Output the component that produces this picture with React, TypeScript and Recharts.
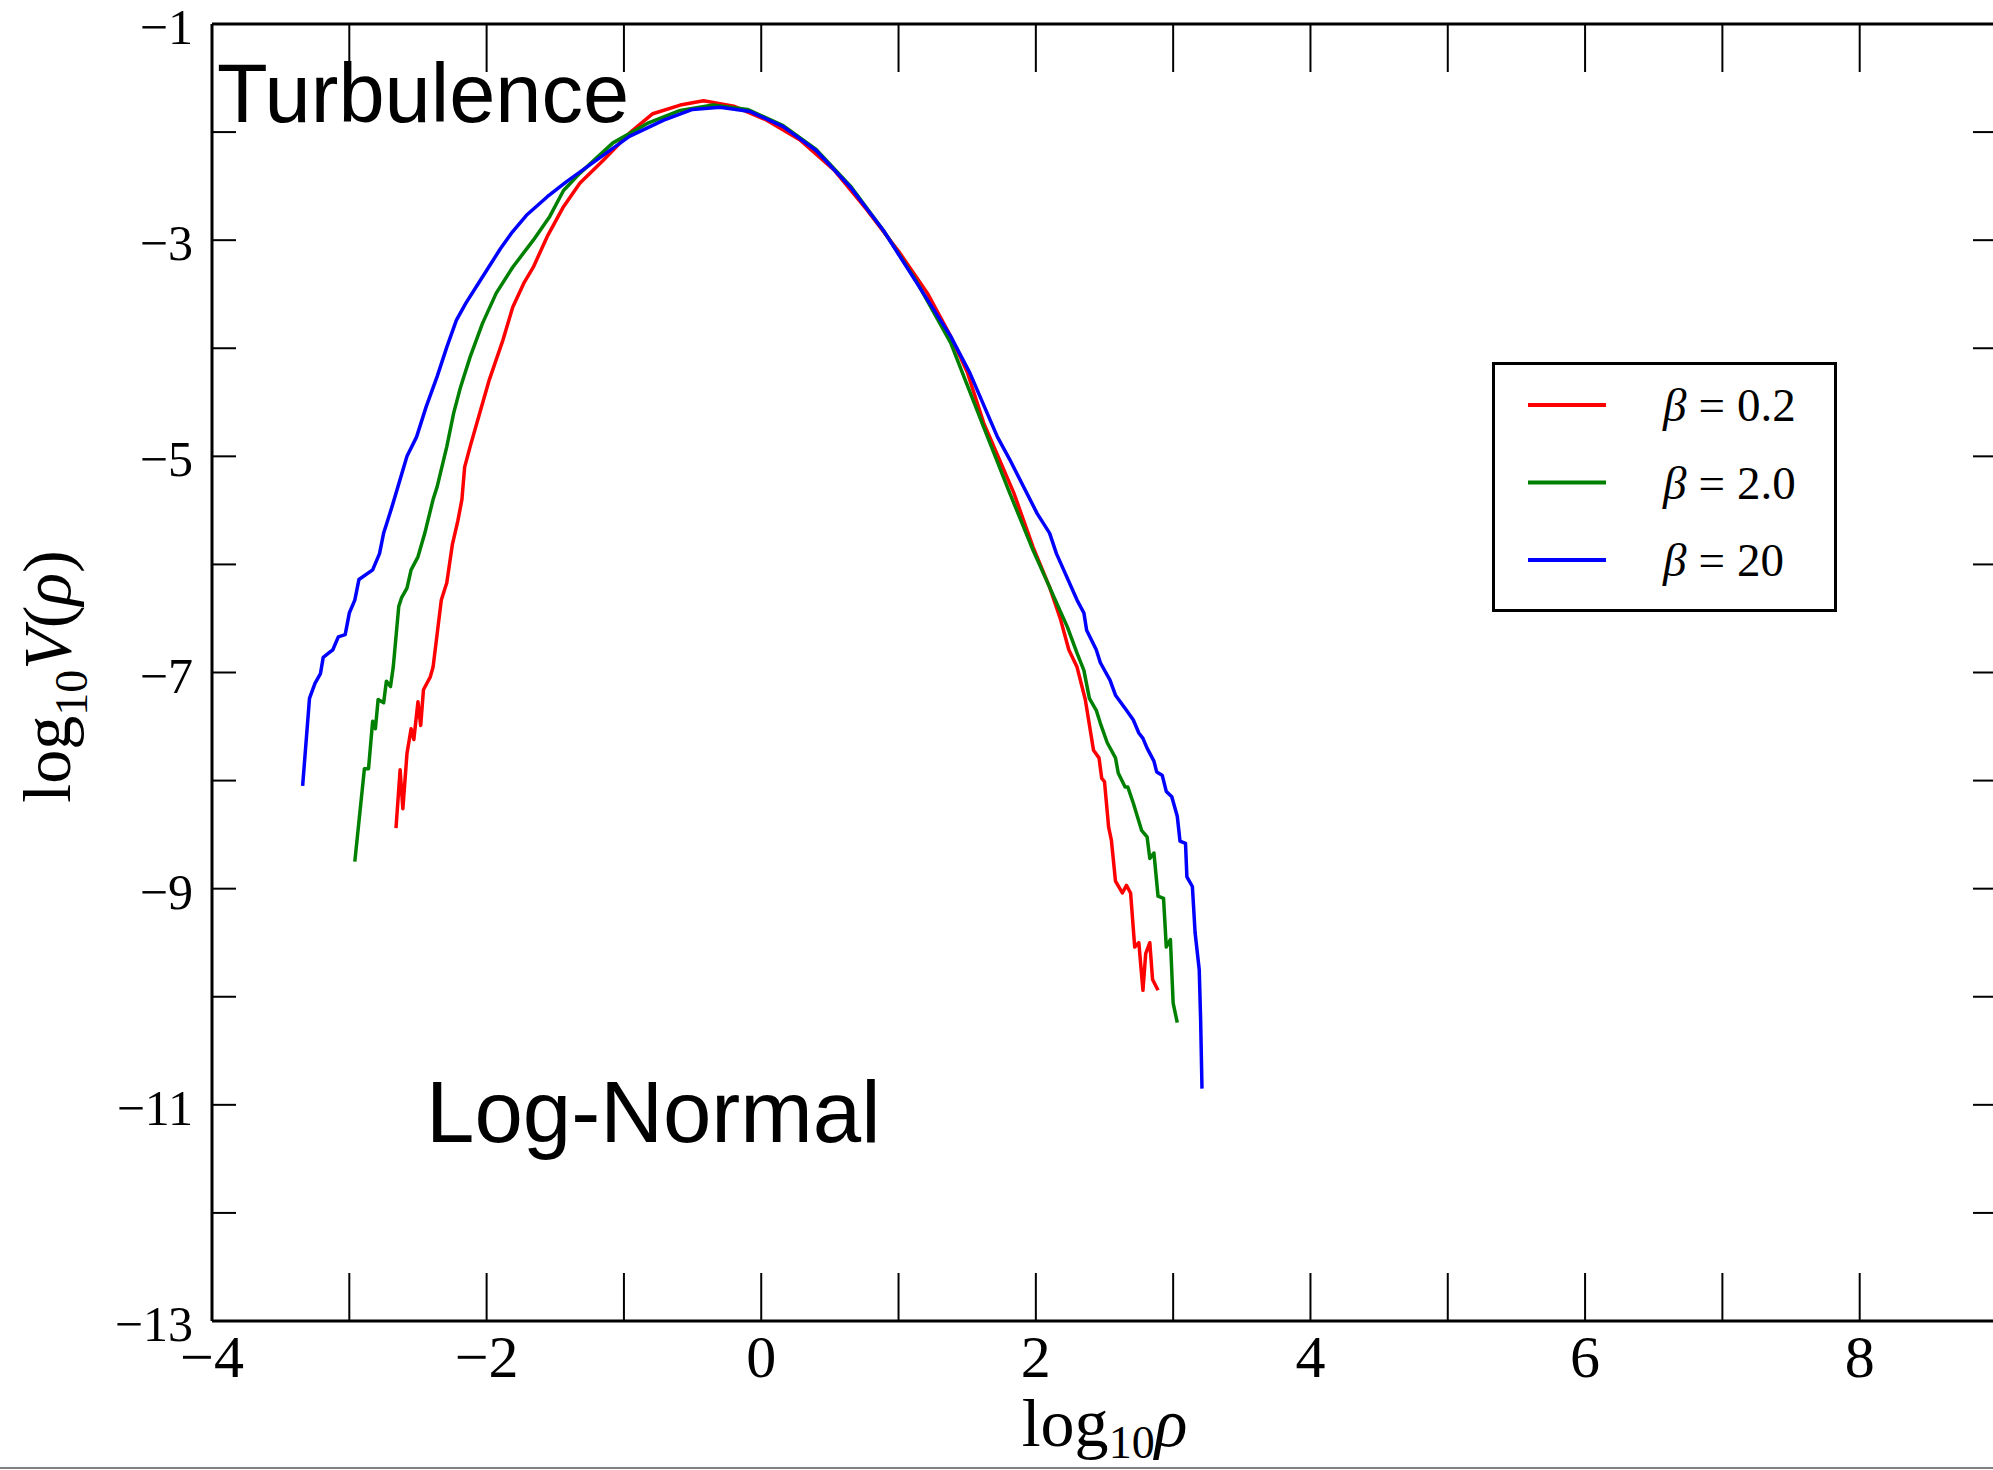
import { LineChart, Line, XAxis, YAxis, Legend } from "recharts"

// log10 rho, log10 V(rho)
const beta02: [number, number][] = [
  [-2.66, -8.44], [-2.63, -7.9], [-2.61, -8.26], [-2.58, -7.75], [-2.55, -7.52], [-2.53, -7.62],
  [-2.5, -7.27], [-2.48, -7.49], [-2.46, -7.16], [-2.41, -7.04], [-2.39, -6.95], [-2.36, -6.64],
  [-2.33, -6.33], [-2.29, -6.17], [-2.25, -5.82], [-2.21, -5.6], [-2.18, -5.4], [-2.16, -5.1],
  [-2.12, -4.91], [-2.05, -4.6], [-1.98, -4.29], [-1.88, -3.92], [-1.81, -3.62], [-1.73, -3.4],
  [-1.66, -3.25], [-1.56, -2.97], [-1.44, -2.69], [-1.32, -2.47], [-1.15, -2.26], [-0.96, -2.01],
  [-0.79, -1.83], [-0.59, -1.75], [-0.42, -1.71], [-0.2, -1.76], [0.04, -1.89], [0.28, -2.07],
  [0.53, -2.35], [0.77, -2.72], [1.01, -3.12], [1.21, -3.49], [1.38, -3.89], [1.5, -4.22],
  [1.62, -4.69], [1.84, -5.34], [1.98, -5.84], [2.1, -6.21], [2.18, -6.51], [2.24, -6.79],
  [2.3, -6.95], [2.36, -7.25], [2.42, -7.72], [2.46, -7.79], [2.48, -7.98], [2.5, -8.01],
  [2.53, -8.43], [2.55, -8.55], [2.58, -8.93], [2.63, -9.04], [2.66, -8.97], [2.69, -9.04],
  [2.72, -9.54], [2.75, -9.5], [2.78, -9.94], [2.8, -9.6], [2.83, -9.5], [2.85, -9.84], [2.89, -9.94],
]

const beta2: [number, number][] = [
  [-2.96, -8.75], [-2.89, -7.89], [-2.86, -7.89], [-2.83, -7.45], [-2.81, -7.52], [-2.79, -7.25],
  [-2.75, -7.28], [-2.73, -7.08], [-2.7, -7.13], [-2.68, -6.95], [-2.64, -6.39], [-2.62, -6.31],
  [-2.58, -6.22], [-2.55, -6.05], [-2.5, -5.93], [-2.45, -5.71], [-2.39, -5.4], [-2.36, -5.28],
  [-2.29, -4.91], [-2.24, -4.6], [-2.19, -4.36], [-2.12, -4.08], [-2.03, -3.77], [-1.93, -3.49],
  [-1.81, -3.25], [-1.66, -3.0], [-1.54, -2.78], [-1.44, -2.54], [-1.32, -2.38], [-1.08, -2.1],
  [-0.83, -1.92], [-0.59, -1.8], [-0.35, -1.75], [-0.1, -1.79], [0.16, -1.94], [0.4, -2.16],
  [0.65, -2.5], [0.89, -2.91], [1.13, -3.38], [1.38, -3.95], [1.62, -4.73], [1.81, -5.34],
  [1.98, -5.87], [2.1, -6.21], [2.23, -6.58], [2.3, -6.82], [2.35, -6.98], [2.39, -7.24],
  [2.44, -7.35], [2.47, -7.47], [2.52, -7.65], [2.58, -7.79], [2.6, -7.93], [2.65, -8.06],
  [2.67, -8.06], [2.71, -8.21], [2.77, -8.46], [2.81, -8.52], [2.83, -8.72], [2.86, -8.67],
  [2.89, -9.07], [2.93, -9.09], [2.95, -9.54], [2.98, -9.47], [3.0, -10.06], [3.03, -10.24],
]

const beta20: [number, number][] = [
  [-3.34, -8.05], [-3.29, -7.24], [-3.25, -7.1], [-3.21, -7.01], [-3.19, -6.86], [-3.14, -6.81],
  [-3.12, -6.79], [-3.08, -6.67], [-3.03, -6.65], [-3.0, -6.45], [-2.96, -6.33], [-2.93, -6.14],
  [-2.83, -6.05], [-2.78, -5.9], [-2.75, -5.71], [-2.73, -5.63], [-2.69, -5.47], [-2.58, -5.0],
  [-2.51, -4.82], [-2.44, -4.54], [-2.36, -4.26], [-2.29, -3.99], [-2.22, -3.74], [-2.15, -3.58],
  [-2.05, -3.38], [-1.9, -3.08], [-1.81, -2.92], [-1.71, -2.77], [-1.56, -2.6], [-1.42, -2.46],
  [-1.2, -2.26], [-0.96, -2.04], [-0.71, -1.89], [-0.5, -1.79], [-0.3, -1.77], [-0.08, -1.81],
  [0.16, -1.95], [0.4, -2.17], [0.65, -2.51], [0.89, -2.91], [1.12, -3.37], [1.38, -3.89],
  [1.52, -4.23], [1.72, -4.82], [1.81, -5.03], [2.01, -5.53], [2.1, -5.71], [2.15, -5.9],
  [2.3, -6.33], [2.35, -6.45], [2.37, -6.61], [2.44, -6.79], [2.47, -6.91], [2.54, -7.07],
  [2.58, -7.21], [2.66, -7.35], [2.71, -7.44], [2.75, -7.56], [2.78, -7.61], [2.81, -7.7],
  [2.86, -7.82], [2.88, -7.92], [2.92, -7.95], [2.95, -8.1], [2.99, -8.15], [3.03, -8.33],
  [3.05, -8.56], [3.09, -8.58], [3.1, -8.89], [3.14, -8.98], [3.16, -9.41], [3.19, -9.75],
  [3.2, -10.21], [3.21, -10.85],
]

const betaLabels = ["0.2", "2.0", "20"]
const lineColors = ["#ff0000", "#008000", "#0000ff"]
const xTicks = [-4, -3, -2, -1, 0, 1, 2, 3, 4, 5, 6, 7, 8, 9]
const yTicks = [-13, -12, -11, -10, -9, -8, -7, -6, -5, -4, -3, -2, -1]

const SERIF = '"Liberation Serif", "DejaVu Serif", serif'
const SANS = '"Liberation Sans", Arial, sans-serif'

const series = [beta02, beta2, beta20].map((pairs, i) => ({
  data: pairs.map(([x, y]) => ({ x, y })),
  color: lineColors[i],
  label: betaLabels[i],
}))

const fmt = (v: number) => (v < 0 ? "\u2212" + Math.abs(v) : String(v))

function BottomTick({ x, y, payload }: any) {
  const v = payload.value
  return (
    <g>
      <line x1={x} x2={x} y1={y} y2={y - 48} stroke="#000" strokeWidth={2} />
      {v % 2 === 0 && (
        <text x={x} y={y + 56} textAnchor="middle" fontFamily={SERIF} fontSize={60} fill="#000">
          {fmt(v)}
        </text>
      )}
    </g>
  )
}

function TopTick({ x, y }: any) {
  return <line x1={x} x2={x} y1={y} y2={y + 48} stroke="#000" strokeWidth={2} />
}

function LeftTick({ x, y, payload }: any) {
  const v = payload.value
  return (
    <g>
      <line x1={x} x2={x + 24} y1={y} y2={y} stroke="#000" strokeWidth={2} />
      {v % 2 !== 0 && (
        <text x={x - 19} y={y + 20} textAnchor="end" fontFamily={SERIF} fontSize={50} fill="#000">
          {fmt(v)}
        </text>
      )}
    </g>
  )
}

function RightTick({ x, y }: any) {
  return <line x1={x} x2={x - 24} y1={y} y2={y} stroke="#000" strokeWidth={2} />
}

function XTitle({ viewBox }: any) {
  const vb = viewBox ?? { x: 212, y: 1321, width: 1785, height: 149 }
  const cx = vb.x + vb.width / 2
  return (
    <text x={cx} y={vb.y + 125} textAnchor="middle" fontFamily={SERIF} fontSize={68} fill="#000">
      log<tspan fontSize={46} dy={12}>10</tspan>
      <tspan dy={-12} fontStyle="italic">ρ</tspan>
    </text>
  )
}

function YTitle({ viewBox }: any) {
  const vb = viewBox ?? { x: 0, y: 24, width: 212, height: 1297 }
  const cy = vb.y + vb.height / 2 + 4
  return (
    <text
      x={70}
      y={cy}
      transform={`rotate(-90 70 ${cy})`}
      textAnchor="middle"
      fontFamily={SERIF}
      fontSize={68}
      fill="#000"
    >
      log<tspan fontSize={46} dy={17}>10</tspan>
      <tspan dy={-17} fontStyle="italic">V</tspan>(<tspan fontStyle="italic">ρ</tspan>)
    </text>
  )
}

function LegendBox() {
  return (
    <div style={{ width: 345, height: 250, border: "3px solid #000", boxSizing: "border-box", background: "#fff" }}>
      <svg width={339} height={244} style={{ display: "block" }}>
        {series.map((s, i) => {
          const cy = 40 + i * 77.5
          return (
            <g key={s.label}>
              <line x1={33} x2={111} y1={cy} y2={cy} stroke={s.color} strokeWidth={4} />
              <text x={168} y={cy + 16} fontFamily={SERIF} fontSize={47} fill="#000">
                <tspan fontStyle="italic">β</tspan>
                <tspan dx={12}>=</tspan>
                <tspan dx={12}>{s.label}</tspan>
              </text>
            </g>
          )
        })}
      </svg>
    </div>
  )
}

export default function App() {
  const spine = { stroke: "#000", strokeWidth: 3 }
  return (
    <div
      style={{
        position: "absolute",
        left: 0,
        top: 0,
        width: 1993,
        height: 1470,
        overflow: "hidden",
        background: "#fff",
      }}
    >
      <LineChart width={2000} height={1470} margin={{ top: 23, right: 2, bottom: 0, left: 0 }}>
        <XAxis
          xAxisId="b"
          type="number"
          dataKey="x"
          domain={[-4, 9]}
          ticks={xTicks}
          interval={0}
          allowDataOverflow
          height={149}
          tickSize={0}
          tickMargin={0}
          tickLine={false}
          axisLine={spine}
          tick={<BottomTick />}
          label={<XTitle />}
        />
        <XAxis
          xAxisId="t"
          orientation="top"
          type="number"
          dataKey="x"
          domain={[-4, 9]}
          ticks={xTicks}
          interval={0}
          allowDataOverflow
          height={1}
          tickSize={0}
          tickMargin={0}
          tickLine={false}
          axisLine={spine}
          tick={<TopTick />}
        />
        <YAxis
          yAxisId="l"
          type="number"
          domain={[-13, -1]}
          ticks={yTicks}
          interval={0}
          allowDataOverflow
          width={212}
          tickSize={0}
          tickMargin={0}
          tickLine={false}
          axisLine={spine}
          tick={<LeftTick />}
          label={<YTitle />}
        />
        <YAxis
          yAxisId="r"
          orientation="right"
          type="number"
          domain={[-13, -1]}
          ticks={yTicks}
          interval={0}
          allowDataOverflow
          width={1}
          tickSize={0}
          tickMargin={0}
          tickLine={false}
          axisLine={spine}
          tick={<RightTick />}
        />
        {series.map((s) => (
          <Line
            key={s.label}
            xAxisId="b"
            yAxisId="l"
            data={s.data}
            dataKey="y"
            type="linear"
            stroke={s.color}
            strokeWidth={3.5}
            strokeLinejoin="round"
            dot={false}
            activeDot={false}
            isAnimationActive={false}
          />
        ))}
        <Legend
          layout="vertical"
          align="center"
          verticalAlign="middle"
          wrapperStyle={{ left: 1492, top: 362, width: 345, height: 250 }}
          content={() => <LegendBox />}
        />
      </LineChart>
      <svg
        width={1993}
        height={1470}
        style={{ position: "absolute", left: 0, top: 0, pointerEvents: "none" }}
      >
        <text x={217} y={122} fontFamily={SANS} fontSize={83} fill="#000">
          Turbulence
        </text>
        <text x={426} y={1142} fontFamily={SANS} fontSize={87} fill="#000">
          Log-Normal
        </text>
      </svg>
      <div style={{ position: "absolute", left: 0, top: 1467, width: 1993, height: 2, background: "#808080" }} />
    </div>
  )
}
